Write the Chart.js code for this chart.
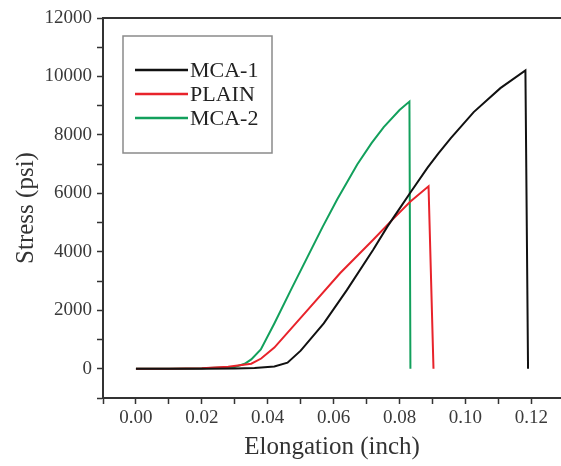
<!DOCTYPE html>
<html>
<head>
<meta charset="utf-8">
<script src="https://cdn.jsdelivr.net/npm/chart.js@4/dist/chart.umd.min.js"></script>
<style>
  html, body { margin: 0; padding: 0; background: #fff; }
  canvas { display: block; }
</style>
</head>
<body>
<canvas id="chart" width="561" height="466"></canvas>
<script>
// values: elongation (inch) and stress (psi)
const seriesNames = ['MCA-1', 'PLAIN', 'MCA-2'];
const seriesColors = ['#111111', '#e8232b', '#12a05c'];

const mca1Elong  = [0, 0.01, 0.02, 0.03, 0.036, 0.042, 0.046, 0.050, 0.057, 0.064, 0.072, 0.0763, 0.080, 0.0833, 0.0885, 0.0918, 0.0955, 0.1025, 0.1106, 0.1182, 0.1190];
const mca1Stress = [0, 0, 0, 10, 30, 80, 207, 620, 1552, 2690, 4069, 4862, 5480, 6030, 6880, 7370, 7880, 8780, 9600, 10207, 0];

const plainElong  = [0, 0.01, 0.02, 0.028, 0.035, 0.038, 0.042, 0.052, 0.062, 0.072, 0.078, 0.0833, 0.0888, 0.0903];
const plainStress = [0, 0, 20, 70, 172, 350, 724, 2000, 3276, 4414, 5120, 5720, 6241, 0];

const mca2Elong  = [0, 0.01, 0.02, 0.03, 0.033, 0.035, 0.0379, 0.042, 0.047, 0.052, 0.0567, 0.0611, 0.0672, 0.0715, 0.0752, 0.080, 0.0830, 0.0833];
const mca2Stress = [0, 0, 15, 60, 170, 320, 660, 1550, 2690, 3810, 4862, 5800, 7000, 7720, 8270, 8850, 9140, 0];

const xTickValues = [-0.01, 0, 0.01, 0.02, 0.03, 0.04, 0.05, 0.06, 0.07, 0.08, 0.09, 0.10, 0.11, 0.12];
const xTickLabels = ['', '0.00', '', '0.02', '', '0.04', '', '0.06', '', '0.08', '', '0.10', '', '0.12'];
const yTickValues = [-1000, 0, 1000, 2000, 3000, 4000, 5000, 6000, 7000, 8000, 9000, 10000, 11000, 12000];
const yTickLabels = ['', '0', '', '2000', '', '4000', '', '6000', '', '8000', '', '10000', '', '12000'];

const allElong = [mca1Elong, plainElong, mca2Elong];
const allStress = [mca1Stress, plainStress, mca2Stress];

const serif = "'Liberation Serif', 'DejaVu Serif', serif";

const datasets = seriesNames.map((name, i) => ({
  label: name,
  data: allElong[i].map((x, j) => ({ x: x, y: allStress[i][j] })),
  borderColor: seriesColors[i],
  backgroundColor: seriesColors[i],
  borderWidth: 2,
  pointRadius: 0,
  showLine: true,
  tension: 0
}));

function labelFor(values, labels) {
  return (val) => {
    const k = values.findIndex(v => Math.abs(v - val) < 1e-9);
    return k >= 0 ? labels[k] : '';
  };
}

// top border of the frame
const topBorder = {
  id: 'topBorder',
  afterDraw(chart) {
    const { ctx, chartArea } = chart;
    ctx.save();
    ctx.strokeStyle = '#333';
    ctx.lineWidth = 2;
    ctx.beginPath();
    ctx.moveTo(chartArea.left - 1, chartArea.top);
    ctx.lineTo(chartArea.right + 2, chartArea.top);
    ctx.stroke();
    ctx.restore();
  }
};

// boxed legend inside the plot
const legendBox = {
  id: 'legendBox',
  afterDraw(chart) {
    const ctx = chart.ctx;
    ctx.save();
    ctx.strokeStyle = '#8a8a8a';
    ctx.lineWidth = 1.5;
    ctx.strokeRect(123, 36, 149, 117);
    ctx.font = '22px ' + serif;
    ctx.textBaseline = 'middle';
    ctx.textAlign = 'left';
    chart.data.datasets.forEach((ds, i) => {
      const y = 70 + i * 24;
      ctx.strokeStyle = ds.borderColor;
      ctx.lineWidth = 2.5;
      ctx.beginPath();
      ctx.moveTo(135, y);
      ctx.lineTo(188, y);
      ctx.stroke();
      ctx.fillStyle = '#222';
      ctx.fillText(ds.label, 190, y + 1);
    });
    ctx.restore();
  }
};

new Chart(document.getElementById('chart'), {
  type: 'scatter',
  data: { datasets: datasets },
  options: {
    responsive: false,
    animation: false,
    layout: { padding: { top: 18, left: 0, right: 0, bottom: 0 } },
    plugins: { legend: { display: false }, tooltip: { enabled: false } },
    scales: {
      x: {
        type: 'linear',
        min: -0.01,
        max: 0.129,
        afterBuildTicks: (s) => { s.ticks = xTickValues.map(v => ({ value: v })); },
        afterFit: (s) => { s.height = 68; },
        border: { display: true, color: '#333', width: 2 },
        grid: { drawOnChartArea: false, drawTicks: true, tickLength: 6, tickColor: '#333', tickWidth: 1.5 },
        ticks: {
          autoSkip: false,
          maxRotation: 0,
          padding: 3,
          color: '#3a3a3a',
          font: { family: serif, size: 19 },
          callback: labelFor(xTickValues, xTickLabels)
        },
        title: {
          display: true,
          text: 'Elongation (inch)',
          color: '#333',
          font: { family: serif, size: 25 },
          padding: { top: 0, bottom: 4 }
        }
      },
      y: {
        type: 'linear',
        min: -1000,
        max: 12000,
        afterBuildTicks: (s) => { s.ticks = yTickValues.map(v => ({ value: v })); },
        afterFit: (s) => { s.width = 103; },
        border: { display: true, color: '#333', width: 2 },
        grid: { drawOnChartArea: false, drawTicks: true, tickLength: 6, tickColor: '#333', tickWidth: 1.5 },
        ticks: {
          autoSkip: false,
          padding: 5,
          color: '#3a3a3a',
          font: { family: serif, size: 19 },
          callback: labelFor(yTickValues, yTickLabels)
        },
        title: {
          display: true,
          text: 'Stress (psi)',
          color: '#333',
          font: { family: serif, size: 25 },
          padding: { top: 11, bottom: 0 }
        }
      }
    }
  },
  plugins: [topBorder, legendBox]
});
</script>
</body>
</html>
